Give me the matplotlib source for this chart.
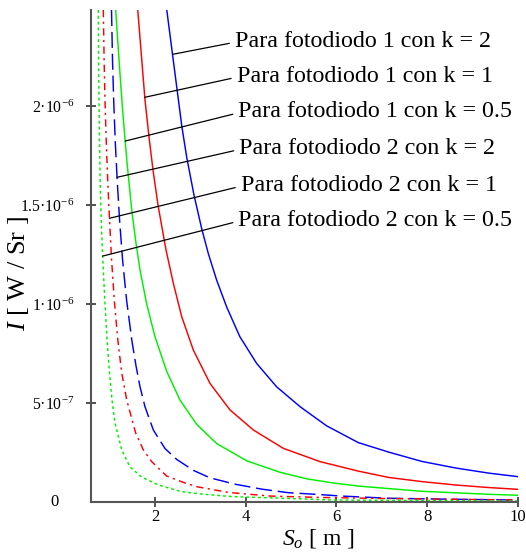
import numpy as np
import matplotlib
matplotlib.use("Agg")
import matplotlib.pyplot as plt

# Radiant intensity I [W/Sr] versus distance S_o [m]
# Photodiode 1
pd1_k2_x = [2.26, 2.59, 2.70, 2.86, 3.03, 3.175, 3.36, 3.58, 3.87, 4.24, 4.68, 5.20, 5.78,
            6.48, 7.15, 7.88, 8.62, 9.35, 10.0]
pd1_k2_i = [2.485e-6, 1.90e-6, 1.74e-6, 1.55e-6, 1.38e-6, 1.255e-6, 1.12e-6, 9.85e-7, 8.35e-7,
            7.0e-7, 5.82e-7, 4.81e-7, 3.85e-7, 3.0e-7, 2.52e-7, 2.05e-7, 1.72e-7, 1.46e-7,
            1.28e-7]

pd1_k1_x = [1.62, 1.78, 1.875, 1.96, 2.07, 2.243, 2.404, 2.589, 2.844, 3.212, 3.653, 4.166,
            4.828, 5.636, 6.48, 7.15, 7.88, 8.62, 9.35, 10.0]
pd1_k1_i = [2.485e-6, 2.03e-6, 1.83e-6, 1.67e-6, 1.495e-6, 1.273e-6, 1.105e-6, 9.36e-7,
            7.68e-7, 5.99e-7, 4.65e-7, 3.64e-7, 2.71e-7, 2.04e-7, 1.56e-7, 1.24e-7, 1.03e-7,
            8.6e-8, 7.3e-8, 6.4e-8]

pd1_k05_x = [1.134, 1.17, 1.23, 1.28, 1.34, 1.39, 1.49, 1.58, 1.67, 1.817, 2.0, 2.258, 2.551,
             2.919, 3.36, 4.021, 4.755, 5.343, 5.93, 6.5, 7.88, 9.35, 10.0]
pd1_k05_i = [2.485e-6, 2.36e-6, 2.16e-6, 2.0e-6, 1.83e-6, 1.70e-6, 1.47e-6, 1.31e-6,
             1.172e-6, 1.0e-6, 8.35e-7, 6.6e-7, 5.15e-7, 3.92e-7, 2.95e-7, 2.08e-7,
             1.50e-7, 1.17e-7, 9.6e-8, 8.0e-8, 5.4e-8, 3.9e-8, 3.4e-8]

# Photodiode 2
pd2_k2_x = [1.042, 1.064, 1.090, 1.123, 1.167, 1.220, 1.286, 1.374, 1.489, 1.58, 1.67, 1.78,
            1.963, 2.221, 2.479, 2.844, 3.212, 3.763, 4.352, 4.938, 5.526, 6.114, 7.135, 8.5,
            9.98]
pd2_k2_i = [2.485e-6, 2.232e-6, 2.030e-6, 1.828e-6, 1.626e-6, 1.424e-6, 1.222e-6, 1.020e-6,
            8.18e-7, 6.9e-7, 5.82e-7, 4.81e-7, 3.64e-7, 2.70e-7, 2.15e-7, 1.60e-7, 1.22e-7,
            9.0e-8, 6.5e-8, 4.7e-8, 3.9e-8, 3.0e-8, 1.9e-8, 1.4e-8, 1.0e-8]

pd2_k1_x = [0.861, 0.879, 0.898, 0.925, 0.958, 0.998, 1.044, 1.103, 1.181, 1.267, 1.377,
            1.575, 1.743, 1.927, 2.258, 2.661, 2.948, 3.631, 4.534, 5.636, 6.958, 9.98]
pd2_k1_i = [2.485e-6, 2.232e-6, 2.030e-6, 1.828e-6, 1.626e-6, 1.424e-6, 1.222e-6, 1.020e-6,
            8.18e-7, 6.52e-7, 5.15e-7, 3.48e-7, 2.63e-7, 2.04e-7, 1.31e-7, 9.6e-8, 7.6e-8,
            4.8e-8, 3.0e-8, 2.3e-8, 1.8e-8, 1.0e-8]

pd2_k05_x = [0.751, 0.757, 0.766, 0.777, 0.791, 0.815, 0.850, 0.899, 0.943, 0.998, 1.053,
             1.119, 1.267, 1.449, 1.707, 2.073, 2.589, 3.029, 3.719, 4.821, 5.923, 9.98]
pd2_k05_i = [2.485e-6, 2.232e-6, 2.030e-6, 1.828e-6, 1.626e-6, 1.424e-6, 1.222e-6, 1.0e-6,
             8.18e-7, 6.52e-7, 5.15e-7, 3.99e-7, 2.63e-7, 1.77e-7, 1.26e-7, 8.6e-8, 5.2e-8,
             4.0e-8, 2.7e-8, 1.9e-8, 1.0e-8, 5e-9]

labels = ["Para fotodiodo 1 con k = 2", "Para fotodiodo 1 con k = 1",
          "Para fotodiodo 1 con k = 0.5", "Para fotodiodo 2 con k = 2",
          "Para fotodiodo 2 con k = 1", "Para fotodiodo 2 con k = 0.5"]
# intensity at which each leader line touches its curve
leader_i = [2.261e-6, 2.044e-6, 1.823e-6, 1.640e-6, 1.433e-6, 1.242e-6]

x_ticks = [2, 4, 6, 8, 10]
x_tick_labels = ["2", "4", "6", "8", "10"]
y_ticks = [5e-7, 1e-6, 1.5e-6, 2e-6]
y_tick_labels = ["5·10$^{-7}$", "1·10$^{-6}$", "1.5·10$^{-6}$", "2·10$^{-6}$"]

plt.rcParams["font.family"] = ["Liberation Serif", "DejaVu Serif"]
plt.rcParams["mathtext.fontset"] = "custom"
plt.rcParams["mathtext.rm"] = "Liberation Serif"
plt.rcParams["mathtext.it"] = "Liberation Serif:italic"
plt.rcParams["mathtext.bf"] = "Liberation Serif:bold"

fig = plt.figure(figsize=(5.26, 5.59), dpi=100)
ax = fig.add_axes([91 / 526, 1 - 502 / 559, 427 / 526, 492 / 559])

blue, red, green = "#0000ff", "#ff0000", "#00f000"
series = [
    (pd1_k2_x, pd1_k2_i, blue, "-"),
    (pd1_k1_x, pd1_k1_i, red, "-"),
    (pd1_k05_x, pd1_k05_i, green, "-"),
    (pd2_k2_x, pd2_k2_i, blue, (0, (11, 4))),
    (pd2_k1_x, pd2_k1_i, red, (0, (5, 3, 1.5, 3))),
    (pd2_k05_x, pd2_k05_i, green, (0, (2, 2))),
]
for xs, ys, col, ls in series:
    ax.plot(xs, ys, color=col, linestyle=ls, lw=1.05)

ax.set_xlim(0.59, 10.0)
ax.set_ylim(0, 2.485e-6)

# leader lines from each curve to its caption
text_pos = [(0.337, 0.9254), (0.341, 0.8543), (0.345, 0.7819),
            (0.347, 0.7073), (0.3506, 0.6327), (0.345, 0.5616)]
for (xs, ys, col, ls), lab, li, tp in zip(series, labels, leader_i, text_pos):
    xa = np.interp(li, ys[::-1], xs[::-1])
    ax.annotate(lab, xy=(xa, li), xycoords="data", xytext=tp,
                textcoords="axes fraction", ha="left", va="baseline",
                fontsize=17.3,
                arrowprops=dict(arrowstyle="-", color="black", lw=0.9,
                                relpos=(0, 0.45), shrinkA=2, shrinkB=0))

for side in ("top", "right"):
    ax.spines[side].set_visible(False)
for side in ("left", "bottom"):
    ax.spines[side].set_color("#555555")
    ax.spines[side].set_linewidth(1.5)

ax.set_xticks(x_ticks)
ax.set_xticklabels(x_tick_labels)
ax.set_yticks(y_ticks)
ax.set_yticklabels(y_tick_labels)
ax.tick_params(direction="inout", length=6.5, width=1.2, color="#333333")
ax.tick_params(axis="y", pad=9, labelsize=11.3)
ax.tick_params(axis="x", pad=2, labelsize=12)
ax.text(-0.085, 0.0, "0", transform=ax.transAxes, ha="center", va="center", fontsize=12)

fig.text(19 / 526, 1 - 273 / 559, r"$I$ [ W / Sr ]", rotation=90,
         ha="center", va="center", fontsize=19)
fig.text(318 / 526, 1 - 539 / 559, r"$S_o$ [ m ]", ha="center", va="center", fontsize=17)

fig.savefig("out.png", dpi=100)
